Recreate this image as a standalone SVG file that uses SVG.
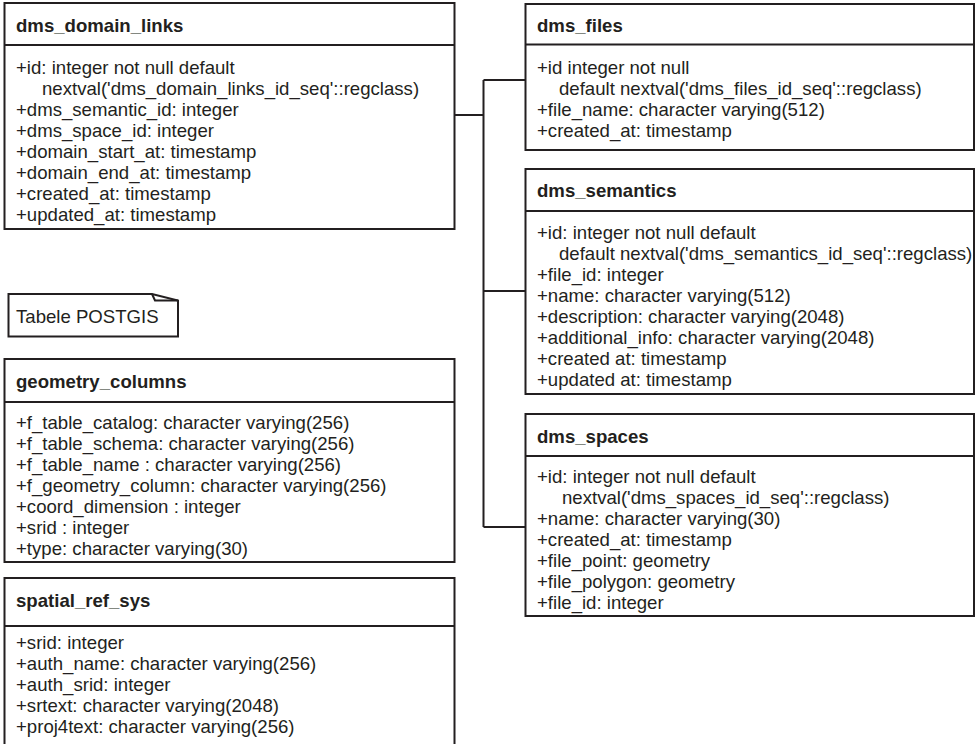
<svg xmlns="http://www.w3.org/2000/svg" width="979" height="744" viewBox="0 0 979 744">
<style>
.box{fill:#fff;stroke:#231f20;stroke-width:2}
.sep{stroke:#231f20;stroke-width:2}
.conn{fill:none;stroke:#231f20;stroke-width:2}
.t{font-family:"Liberation Sans",Arial,sans-serif;font-size:18.6px;fill:#231f20}
.h{font-family:"Liberation Sans",Arial,sans-serif;font-size:18.6px;font-weight:bold;fill:#231f20}
</style>
<rect width="979" height="744" fill="#fff"/>
<g id="connectors">
<path class="conn" d="M454.5,115 H483.5 M483.5,80 V527 M483.5,80 H525.5 M483.5,291 H525.5 M483.5,527 H525.5"/>
</g>
<g id="dms_domain_links">
<rect class="box" x="4.5" y="3" width="450" height="226"/>
<line class="sep" x1="4.5" y1="45" x2="454.5" y2="45"/>
<text class="h" x="16" y="32">dms_domain_links</text>
<text class="t" x="16" y="74">+id: integer not null default</text>
<text class="t" x="42" y="95">nextval('dms_domain_links_id_seq'::regclass)</text>
<text class="t" x="16" y="116">+dms_semantic_id: integer</text>
<text class="t" x="16" y="137">+dms_space_id: integer</text>
<text class="t" x="16" y="158">+domain_start_at: timestamp</text>
<text class="t" x="16" y="179">+domain_end_at: timestamp</text>
<text class="t" x="16" y="200">+created_at: timestamp</text>
<text class="t" x="16" y="221">+updated_at: timestamp</text>
</g>
<g id="note_postgis">
<path class="box" d="M8.5,294 H152 L178,300.5 V336.5 H8.5 Z"/>
<path class="conn" d="M152,294 L155,300.5 H178"/>
<text class="t" x="16" y="323">Tabele POSTGIS</text>
</g>
<g id="geometry_columns">
<rect class="box" x="4.5" y="359" width="450" height="203"/>
<line class="sep" x1="4.5" y1="402" x2="454.5" y2="402"/>
<text class="h" x="16" y="388">geometry_columns</text>
<text class="t" x="16" y="429">+f_table_catalog: character varying(256)</text>
<text class="t" x="16" y="450">+f_table_schema: character varying(256)</text>
<text class="t" x="16" y="471">+f_table_name : character varying(256)</text>
<text class="t" x="16" y="492">+f_geometry_column: character varying(256)</text>
<text class="t" x="16" y="513">+coord_dimension : integer</text>
<text class="t" x="16" y="534">+srid : integer</text>
<text class="t" x="16" y="555">+type: character varying(30)</text>
</g>
<g id="spatial_ref_sys">
<rect class="box" x="4.5" y="578" width="450" height="170"/>
<line class="sep" x1="4.5" y1="626" x2="454.5" y2="626"/>
<text class="h" x="16" y="607">spatial_ref_sys</text>
<text class="t" x="16" y="649">+srid: integer</text>
<text class="t" x="16" y="670">+auth_name: character varying(256)</text>
<text class="t" x="16" y="691">+auth_srid: integer</text>
<text class="t" x="16" y="712">+srtext: character varying(2048)</text>
<text class="t" x="16" y="733">+proj4text: character varying(256)</text>
</g>
<g id="dms_files">
<rect class="box" x="525.5" y="4" width="448.5" height="146"/>
<line class="sep" x1="525.5" y1="44.5" x2="974" y2="44.5"/>
<text class="h" x="537" y="32">dms_files</text>
<text class="t" x="537" y="74">+id integer not null</text>
<text class="t" x="559" y="95">default nextval('dms_files_id_seq'::regclass)</text>
<text class="t" x="537" y="116">+file_name: character varying(512)</text>
<text class="t" x="537" y="137">+created_at: timestamp</text>
</g>
<g id="dms_semantics">
<rect class="box" x="525.5" y="169" width="448.5" height="225"/>
<line class="sep" x1="525.5" y1="211" x2="974" y2="211"/>
<text class="h" x="537" y="197">dms_semantics</text>
<text class="t" x="537" y="239">+id: integer not null default</text>
<text class="t" x="559" y="260">default nextval('dms_semantics_id_seq'::regclass)</text>
<text class="t" x="537" y="281">+file_id: integer</text>
<text class="t" x="537" y="302">+name: character varying(512)</text>
<text class="t" x="537" y="323">+description: character varying(2048)</text>
<text class="t" x="537" y="344">+additional_info: character varying(2048)</text>
<text class="t" x="537" y="365">+created at: timestamp</text>
<text class="t" x="537" y="386">+updated at: timestamp</text>
</g>
<g id="dms_spaces">
<rect class="box" x="525.5" y="414" width="448.5" height="202"/>
<line class="sep" x1="525.5" y1="456" x2="974" y2="456"/>
<text class="h" x="537" y="443">dms_spaces</text>
<text class="t" x="537" y="483">+id: integer not null default</text>
<text class="t" x="562" y="504">nextval('dms_spaces_id_seq'::regclass)</text>
<text class="t" x="537" y="525">+name: character varying(30)</text>
<text class="t" x="537" y="546">+created_at: timestamp</text>
<text class="t" x="537" y="567">+file_point: geometry</text>
<text class="t" x="537" y="588">+file_polygon: geometry</text>
<text class="t" x="537" y="609">+file_id: integer</text>
</g>
</svg>
